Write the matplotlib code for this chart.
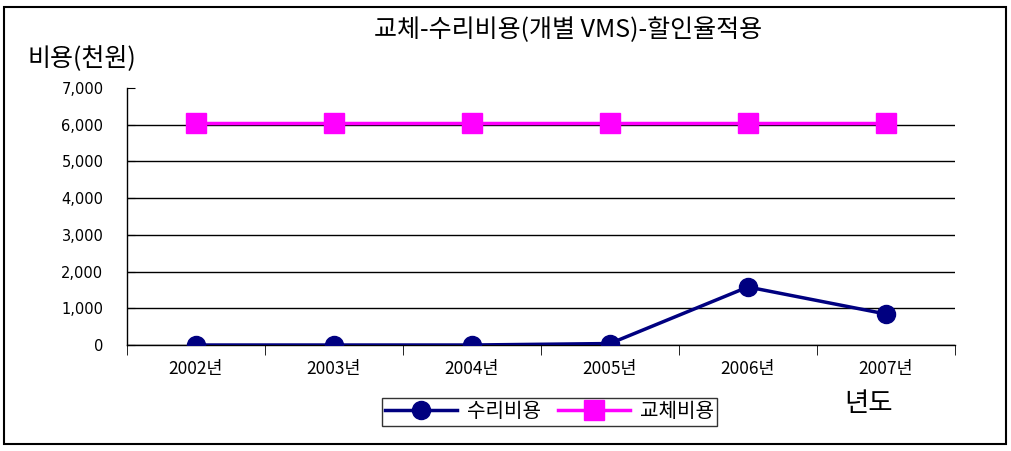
import matplotlib
matplotlib.use("Agg")
import matplotlib.pyplot as plt
from matplotlib.patches import Rectangle

plt.rcParams['font.family'] = ['Noto Sans CJK KR', 'DejaVu Sans']

years = ["2002년", "2003년", "2004년", "2005년", "2006년", "2007년"]
repair = [0, 0, 0, 40, 1580, 845]
replace = [6050, 6050, 6050, 6050, 6050, 6050]
yticks = [0, 1000, 2000, 3000, 4000, 5000, 6000, 7000]

fig = plt.figure(figsize=(10.12, 4.51), dpi=100)
ax = fig.add_axes([0.1255, 0.235, 0.818, 0.570])

xs = list(range(len(years)))
ax.plot(xs, repair, color="#000080", lw=2.5, marker="o", ms=13,
        markeredgecolor="#000080", label="수리비용", zorder=4)
ax.plot(xs, replace, color="#ff00ff", lw=2.5, marker="s", ms=15,
        markeredgecolor="#ff00ff", label="교체비용", zorder=3)

ax.set_xlim(-0.5, len(years) - 0.5)
ax.set_ylim(0, 7000)
ax.set_yticks(yticks)
ax.set_yticklabels([f"{v:,}" for v in yticks], fontsize=10.5,
                   family=['DejaVu Sans'])
ax.tick_params(axis="y", direction="in", length=6, pad=17, colors="black")
ax.yaxis.grid(True, color="black", lw=1)
ax.get_ygridlines()[-1].set_visible(False)

ax.set_xticks(xs)
ax.set_xticklabels(years, fontsize=12.5)
ax.tick_params(axis="x", length=0, pad=11)
ax.set_xticks([x - 0.5 for x in range(len(years) + 1)], minor=True)
ax.tick_params(axis="x", which="minor", direction="out", length=7, color="black")

for s in ["top", "right"]:
    ax.spines[s].set_visible(False)
for s in ["left", "bottom"]:
    ax.spines[s].set_color("black")
    ax.spines[s].set_linewidth(1)

fig.text(0.561, 0.933, "교체-수리비용(개별 VMS)-할인율적용", ha="center", va="center",
         fontsize=18)
fig.text(0.027, 0.871, "비용(천원)", ha="left", va="center", fontsize=18)
fig.text(0.858, 0.106, "년도", ha="center", va="center", fontsize=19)

leg = fig.legend(loc="center", bbox_to_anchor=(0.543, 0.0865), ncol=2,
                 fontsize=14.5, frameon=True, fancybox=False, handlelength=3.6,
                 columnspacing=0.8, handletextpad=0.5, borderpad=0.15)
leg.get_frame().set_edgecolor("black")
leg.get_frame().set_linewidth(1)

fig.patches.append(Rectangle((0.004, 0.016), 0.99, 0.969, transform=fig.transFigure,
                             fill=False, edgecolor="black", lw=1.5))

fig.savefig("out.png", dpi=100)
